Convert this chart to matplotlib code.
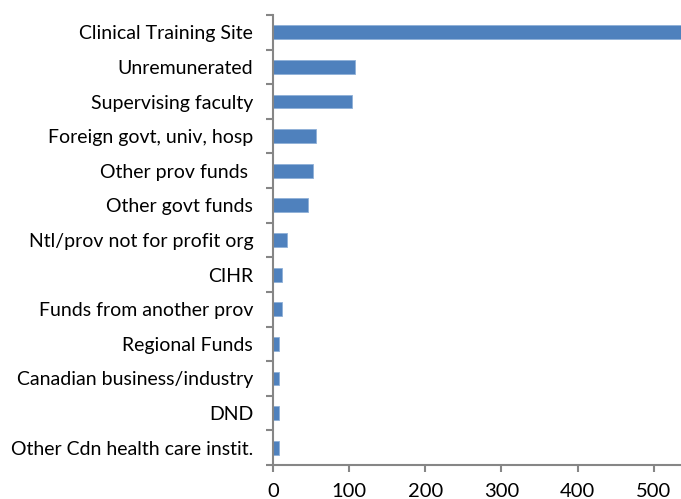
import numpy as np
import matplotlib
matplotlib.use("Agg")
import matplotlib.pyplot as plt

# funding sources, top to bottom
sources = ['Clinical Training Site', 'Unremunerated', 'Supervising faculty',
           'Foreign govt, univ, hosp', 'Other prov funds ', 'Other govt funds',
           'Ntl/prov not for profit org', 'CIHR', 'Funds from another prov',
           'Regional Funds', 'Canadian business/industry', 'DND',
           'Other Cdn health care instit.']
counts = [560, 107, 104, 56, 52, 46, 18, 12, 11, 8, 8, 7, 7]
xticks = [0, 100, 200, 300, 400, 500]

plt.rcParams['font.family'] = ['Lato', 'DejaVu Sans']

fig = plt.figure(figsize=(6.81, 4.99), dpi=100)
ax = fig.add_axes([273.3 / 681, 34 / 499, 1 - 273.3 / 681, 450 / 499])

pos = np.arange(len(sources))
ax.barh(pos, counts, height=0.4, color='#4F81BD', edgecolor='#8fb0d8', linewidth=0.6)
ax.set_ylim(len(sources) - 0.5, -0.5)
ax.set_xlim(0, 536)

ax.set_yticks(pos)
ax.set_yticklabels(sources, fontsize=14)
ax.set_yticks(np.arange(len(sources) + 1) - 0.5, minor=True)
ax.tick_params(axis='y', which='major', length=0, pad=14.5)
ax.tick_params(axis='y', which='minor', length=5, width=1.5, color='#868686')

ax.set_xticks(xticks)
ax.set_xticklabels([str(t) for t in xticks], fontsize=14.5)
ax.tick_params(axis='x', length=5, width=1.5, color='#868686', pad=8)

for side in ['top', 'right']:
    ax.spines[side].set_visible(False)
for side in ['left', 'bottom']:
    ax.spines[side].set_color('#868686')
    ax.spines[side].set_linewidth(1.5)

fig.savefig('out.png', dpi=100)
